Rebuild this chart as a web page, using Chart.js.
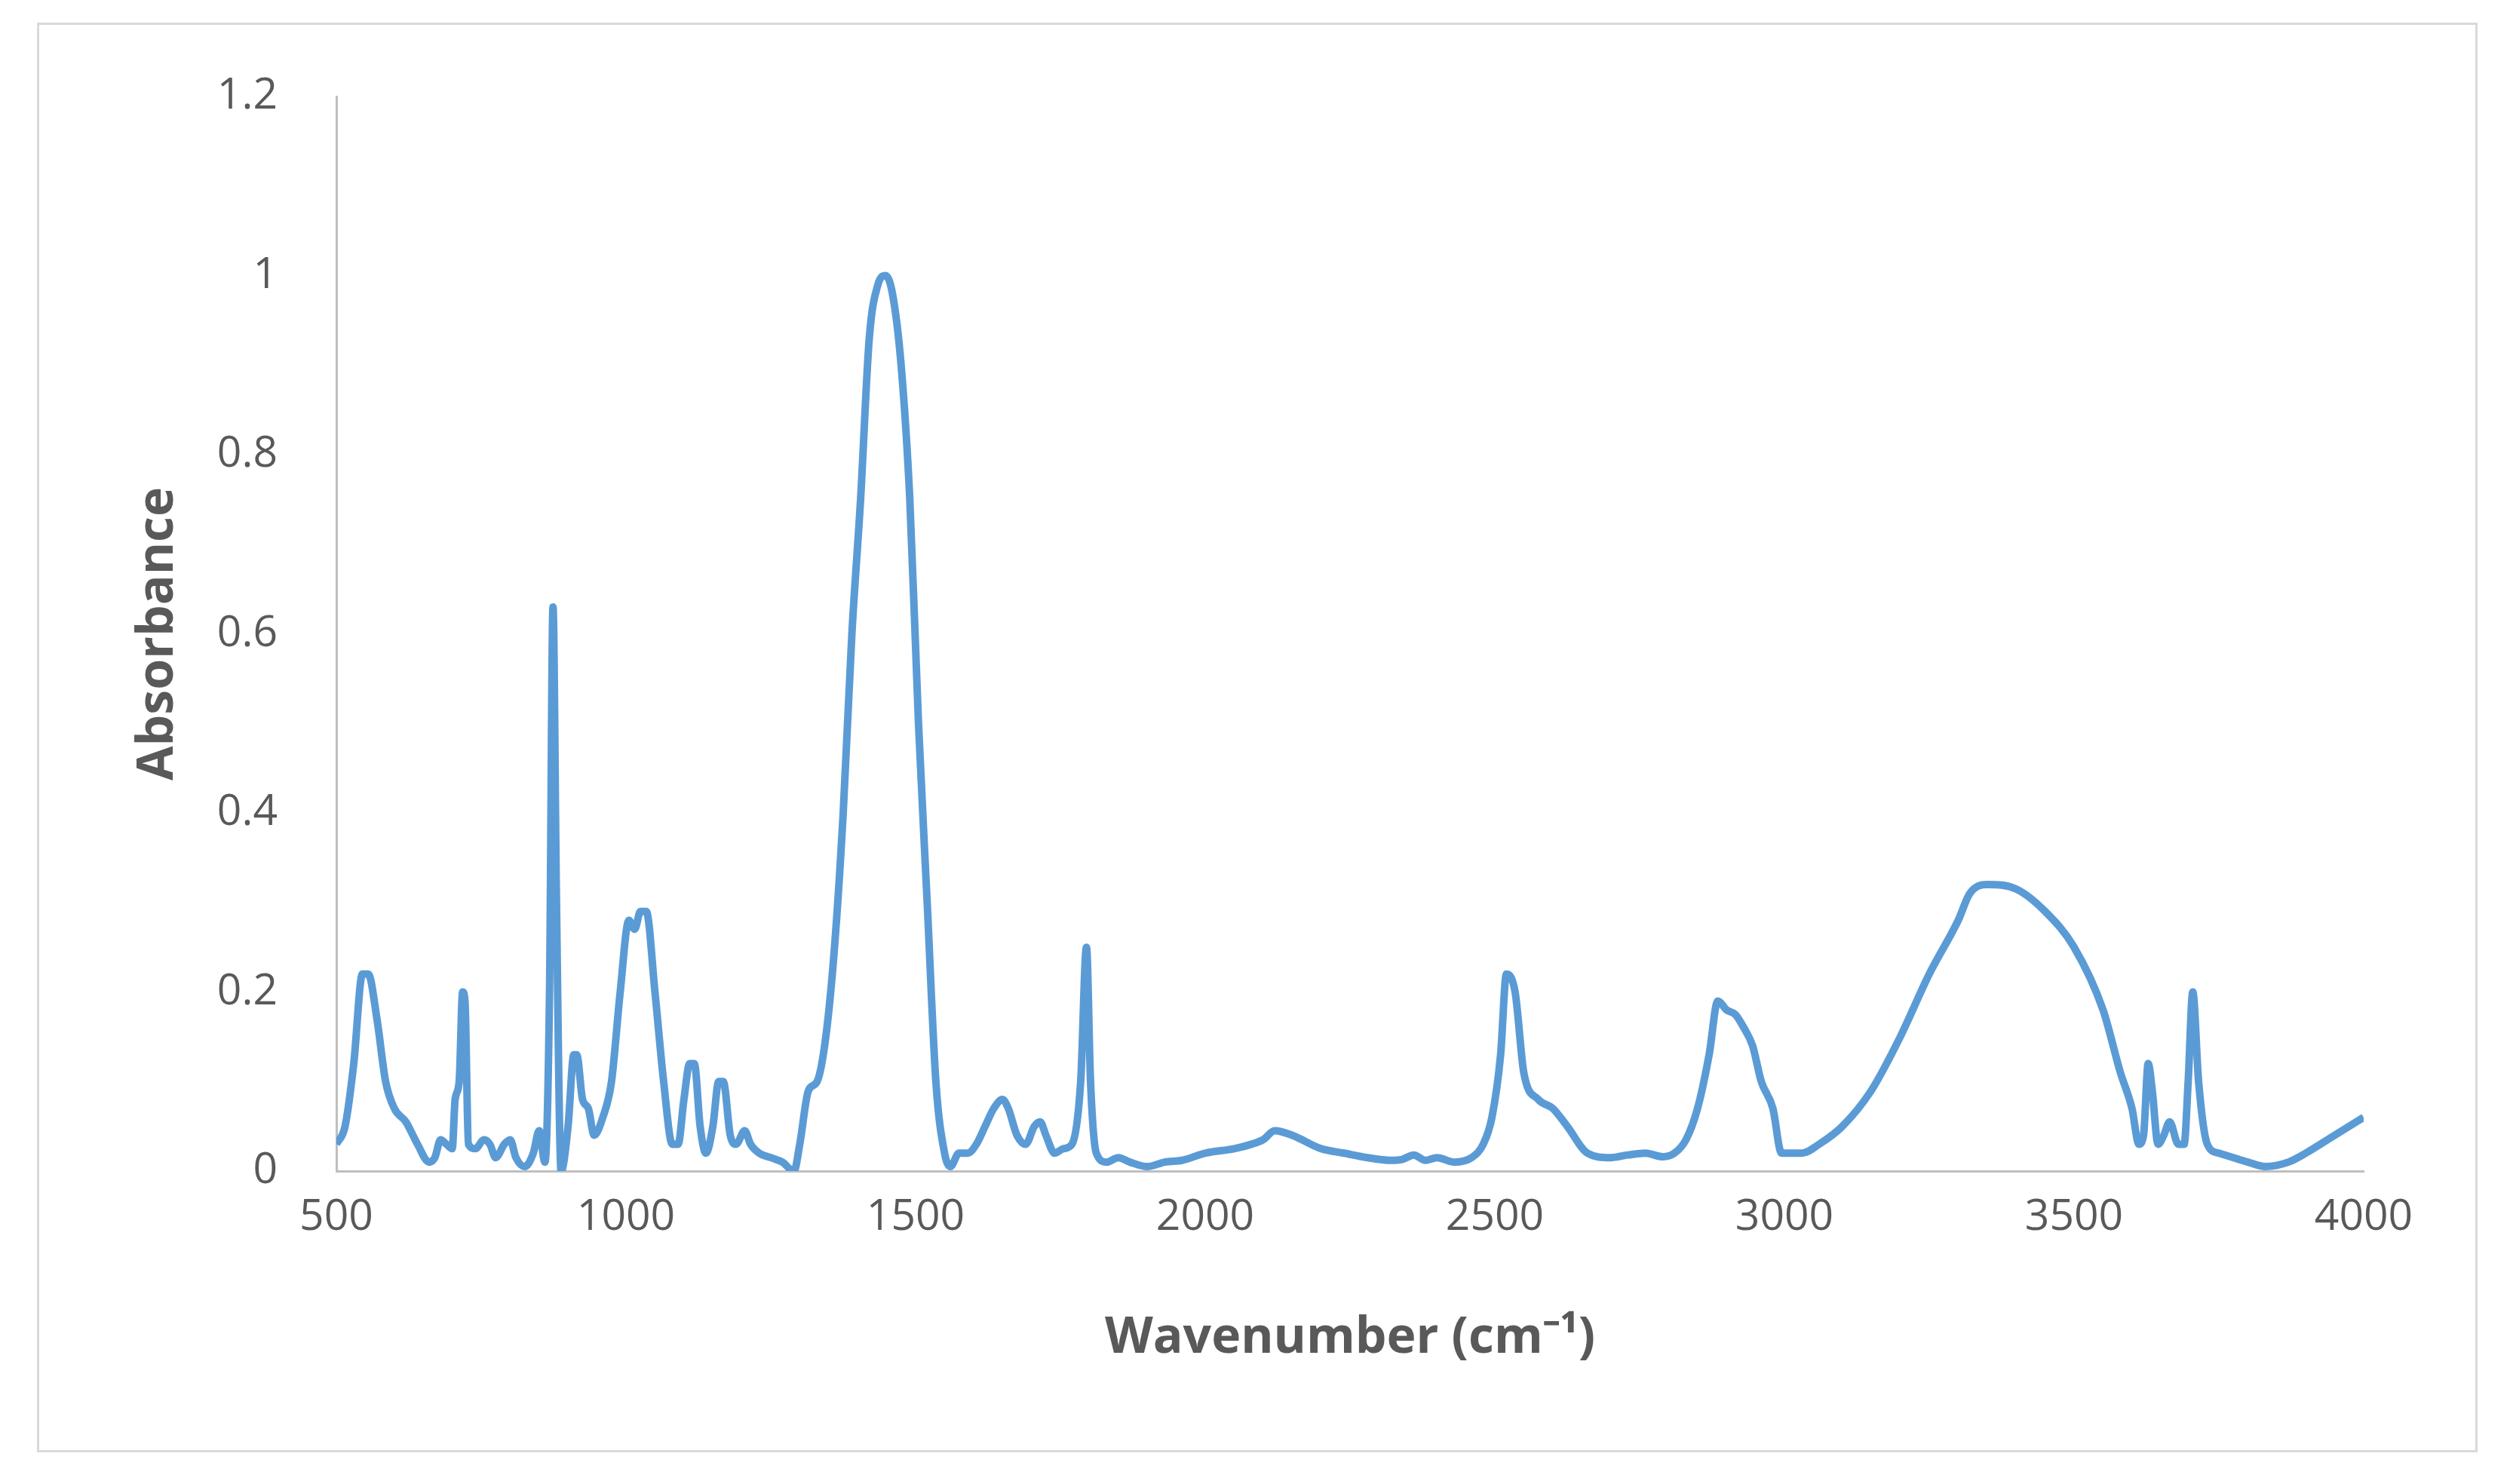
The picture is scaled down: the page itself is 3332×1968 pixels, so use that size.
<!DOCTYPE html>
<html><head><meta charset="utf-8">
<script src="https://cdn.jsdelivr.net/npm/chart.js@4"></script>
<style>
html,body{margin:0;padding:0;background:#fff;}
#wrap{position:relative;width:3332px;height:1968px;}
#frame{position:absolute;left:49px;top:30px;width:3230px;height:1890px;border:3px solid #D9D9D9;}
canvas{position:absolute;left:0;top:0;}
</style></head><body>
<div id="wrap"><div id="frame"></div><canvas id="c" width="3332" height="1968"></canvas></div>
<script>
const wavenumbers=[500,515,530,545,555,570,585,600,620,640,660,670,680,690,700,705,712,718,722,728,740,755,765,775,790,800,810,825,840,850,860,868,874,880,888,900,910,915,925,935,945,960,975,990,1005,1015,1025,1035,1050,1065,1080,1090,1100,1110,1118,1128,1138,1150,1160,1168,1180,1190,1205,1215,1230,1250,1270,1290,1300,1315,1330,1345,1360,1375,1390,1405,1420,1435,1448,1460,1475,1490,1505,1520,1535,1550,1560,1575,1590,1605,1620,1635,1650,1660,1675,1690,1705,1715,1725,1740,1755,1770,1785,1795,1802,1812,1830,1850,1870,1900,1930,1960,2000,2050,2080,2100,2120,2150,2200,2240,2280,2320,2340,2360,2380,2400,2430,2460,2480,2495,2510,2520,2535,2550,2575,2600,2625,2660,2700,2730,2760,2790,2810,2830,2850,2870,2885,2900,2915,2930,2945,2960,2980,2995,3010,3030,3060,3100,3150,3200,3250,3300,3320,3350,3400,3450,3500,3550,3580,3600,3612,3620,3628,3635,3645,3655,3665,3680,3690,3697,3705,3715,3730,3750,3775,3800,3830,3870,3900,3950,4000];
const absorbance=[0.03,0.05,0.12,0.22,0.22,0.17,0.1,0.07,0.055,0.03,0.01,0.015,0.035,0.03,0.025,0.08,0.1,0.2,0.19,0.03,0.025,0.035,0.03,0.015,0.03,0.035,0.015,0.005,0.02,0.045,0.01,0.2,0.63,0.3,0.0,0.05,0.13,0.13,0.08,0.07,0.04,0.06,0.1,0.2,0.28,0.27,0.29,0.29,0.2,0.1,0.03,0.03,0.08,0.12,0.12,0.05,0.02,0.05,0.1,0.1,0.04,0.03,0.045,0.03,0.02,0.015,0.01,0.0,0.03,0.09,0.1,0.15,0.25,0.4,0.6,0.75,0.93,0.99,1.0,0.98,0.9,0.75,0.5,0.3,0.1,0.02,0.005,0.02,0.02,0.03,0.05,0.07,0.08,0.07,0.04,0.03,0.05,0.055,0.04,0.02,0.025,0.03,0.1,0.25,0.1,0.02,0.01,0.015,0.01,0.005,0.01,0.012,0.02,0.025,0.03,0.035,0.045,0.04,0.025,0.02,0.015,0.012,0.013,0.018,0.012,0.015,0.01,0.015,0.03,0.06,0.13,0.22,0.2,0.11,0.08,0.07,0.05,0.02,0.015,0.018,0.02,0.016,0.02,0.035,0.07,0.13,0.19,0.18,0.175,0.16,0.14,0.1,0.07,0.02,0.02,0.02,0.03,0.05,0.09,0.15,0.22,0.28,0.31,0.32,0.315,0.29,0.25,0.18,0.11,0.07,0.03,0.04,0.12,0.09,0.03,0.04,0.055,0.03,0.03,0.1,0.2,0.1,0.03,0.02,0.015,0.01,0.005,0.01,0.02,0.04,0.06,0.08];
const xTitle='Wavenumber (cm⁻¹)', yTitle='Absorbance';
const pts=wavenumbers.map((x,i)=>({x,y:absorbance[i]}));
const font={family:'Open Sans, Liberation Sans, sans-serif',size:57};
new Chart(document.getElementById('c'),{
 type:'line',
 data:{datasets:[{data:pts,borderColor:'#5B9BD5',borderWidth:10,pointRadius:0,tension:0.4,cubicInterpolationMode:'monotone',fill:false}]},
 options:{responsive:false,animation:false,devicePixelRatio:1,
  layout:{padding:{top:128,right:198,left:167,bottom:149}},
  plugins:{legend:{display:false},tooltip:{enabled:false}},
  scales:{
   x:{type:'linear',min:500,max:4000,
     ticks:{stepSize:500,color:'#595959',font,padding:20,callback:v=>String(v)},
     grid:{display:false},border:{display:true,color:'#BFBFBF',width:3},
     title:{display:true,text:xTitle,color:'#595959',font:{family:font.family,size:66,weight:'bold'},padding:{top:0}},
     afterFit:s=>{s.height=1968-1553-149;}},
   y:{min:0,max:1.2,
     ticks:{stepSize:0.2,color:'#595959',font,padding:70,callback:v=>String(Math.round(v*10)/10)},
     grid:{display:false},border:{display:true,color:'#BFBFBF',width:3},
     title:{display:true,text:yTitle,color:'#595959',font:{family:font.family,size:66,weight:'bold'},padding:{bottom:0}},
     afterFit:s=>{s.width=446-167;}}
  }}
});
</script></body></html>
